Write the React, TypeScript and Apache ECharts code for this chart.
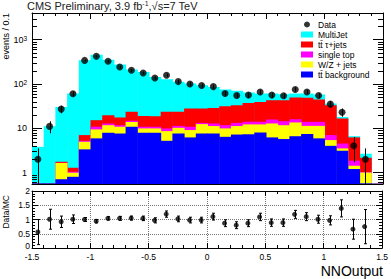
import React, { useEffect, useRef } from "react";
import * as echarts from "echarts";

// Bin low edges of NNOutput (bin width 0.1)
const binLow = [
  -1.5, -1.4, -1.3, -1.2, -1.1, -1.0, -0.9, -0.8, -0.7, -0.6,
  -0.5, -0.4, -0.3, -0.2, -0.1, 0.0, 0.1, 0.2, 0.3, 0.4,
  0.5, 0.6, 0.7, 0.8, 0.9, 1.0, 1.1, 1.2, 1.3, 1.4,
];
const binWidth = 0.1;

// Stacked MC components (events / 0.1)
const ttbarBkg = [0.57, 0.57, 0.7, 0.8, 3.33, 5.9, 7.9, 7.6, 10.8, 7.9, 7.9, 5.2, 7.6, 6.2, 7.6, 7.6, 6.4, 7.2, 7.3, 8.0, 6.2, 5.7, 6.6, 7.4, 5.9, 4.0, 3.1, 1.2, 0.57, 0.56];
const wzJets = [0, 0, 0.94, 0.19, 1.61, 3.5, 3.8, 3.2, 3.1, 2.0, 2.0, 3.4, 2.6, 2.9, 4.8, 3.6, 3.5, 4.0, 4.9, 4.2, 6.6, 6.0, 6.9, 3.9, 5.4, 1.4, 0.4, 0.22, 0.43, 0];
const singleTop = [0, 0, 0.03, 0.05, 0.26, 1.4, 1.1, 0.9, 0.8, 0.9, 0.9, 1.3, 1.1, 1.7, 0.8, 1.6, 1.8, 2.0, 1.8, 1.8, 3.0, 2.7, 2.5, 2.6, 2.6, 1.6, 1.0, 0.43, 0.02, 0];
const ttTauJets = [0, 0, 0.07, 0.24, 1.8, 4.4, 6.9, 5.8, 8.7, 8.0, 7.9, 13.6, 12.2, 17.1, 14.7, 16.0, 19.8, 19.8, 23.3, 25.0, 27.2, 28.6, 33.3, 35.1, 30.7, 26.0, 12.1, 4.35, 1.13, 0];
const multiJet = [3.23, 10.5, 28.6, 59.4, 335, 444, 334, 256, 188, 167, 125, 104, 88, 74, 65, 57, 43.5, 37, 26.7, 22, 17.8, 15.7, 11.5, 11.8, 13.1, 3.0, 1.4, 0.4, 0.5, 0];

// Data (events / 0.1) and its error bars
const dataVals = [2, 11, 27, 60, 340, 420, 324, 241, 203, 177, 136, 157, 113, 100, 92, 87, 61, 55, 56, 66, 56, 54, 75, 66, 55, 35, 23, 4, 2];
const dataErr = [1.5, 3.3, 5.2, 7.7, 18, 20.5, 18, 15.5, 14.2, 13.3, 11.7, 12.5, 10.6, 10, 9.6, 9.3, 7.8, 7.4, 7.5, 8.1, 7.5, 7.3, 8.7, 8.1, 7.4, 5.9, 4.8, 2.3, 1.5];

// Data / MC ratio and its error bars
const ratioVals = [0.56, 1.01, 0.92, 1.01, 1.0, 0.94, 1.04, 1.04, 1.05, 1.04, 0.97, 1.19, 1.02, 0.98, 0.98, 1.1, 0.87, 0.8, 0.87, 1.09, 0.89, 0.89, 1.18, 1.1, 1.01, 0.97, 1.39, 0.66, 0.75];
const ratioErr = [0.44, 0.35, 0.2, 0.15, 0.07, 0.06, 0.06, 0.07, 0.07, 0.08, 0.09, 0.11, 0.1, 0.1, 0.1, 0.12, 0.12, 0.12, 0.12, 0.13, 0.13, 0.13, 0.14, 0.14, 0.14, 0.16, 0.3, 0.35, 0.6];

// Log-axis minor tick values
const logMinorTicks = [0.6, 0.7, 0.8, 0.9, 2, 3, 4, 5, 6, 7, 8, 9, 20, 30, 40, 50, 60, 70, 80, 90, 200, 300, 400, 500, 600, 700, 800, 900, 2000, 3000];

const Y_MIN = 0.55;
const Y_MAX = 4000;
const FONT = "'Liberation Sans', Arial, Helvetica, sans-serif";

const COLORS = {
  multi: "#00ffff",
  tau: "#ff0000",
  single: "#ff00ff",
  wz: "#ffff00",
  bkg: "#0000ff",
};

const NAMES = {
  multi: "MultiJet",
  tau: "tt\u0304 \u03c4+jets",
  single: "single top",
  wz: "W/Z + jets",
  bkg: "tt\u0304 background",
};

export default function App() {
  const ref = useRef<HTMLDivElement>(null);

  useEffect(() => {
    if (!ref.current) return;
    const chart = echarts.init(ref.current, undefined, { renderer: "svg" });

    const cum1 = ttbarBkg.map((v) => v);
    const cum2 = cum1.map((v, i) => v + wzJets[i]);
    const cum3 = cum2.map((v, i) => v + singleTop[i]);
    const cum4 = cum3.map((v, i) => v + ttTauJets[i]);
    const cum5 = cum4.map((v, i) => v + multiJet[i]);

    const stackData = (cum: number[]) => binLow.map((x, i) => [x, cum[i]]);

    const stackRender = (color: string) => (params: any, api: any) => {
      const x0 = api.value(0) as number;
      const top = api.value(1) as number;
      const cs = params.coordSys;
      if (!(top > 0)) return null;
      const pL = api.coord([x0, top]);
      const pR = api.coord([x0 + binWidth, top]);
      const bottomY = cs.y + cs.height;
      const shape = echarts.graphic.clipRectByRect(
        { x: pL[0], y: pL[1], width: pR[0] - pL[0] + 0.5, height: bottomY - pL[1] },
        { x: cs.x, y: cs.y, width: cs.width, height: cs.height }
      );
      if (!shape) return null;
      return { type: "rect", shape, style: { fill: color } };
    };

    const stackSeries = (key: keyof typeof COLORS, cum: number[]) => ({
      type: "custom",
      name: NAMES[key],
      xAxisIndex: 0,
      yAxisIndex: 0,
      silent: true,
      itemStyle: { color: COLORS[key] },
      renderItem: stackRender(COLORS[key]),
      data: stackData(cum),
    });

    const centers = dataVals.map((_, i) => binLow[i] + binWidth / 2);

    const topErrData = dataVals.map((v, i) => [centers[i], v - dataErr[i], v + dataErr[i]]);
    const ratioErrData = ratioVals.map((v, i) => [centers[i], v - ratioErr[i], v + ratioErr[i]]);

    const errRenderLog = (params: any, api: any) => {
      const x = api.value(0) as number;
      const lo = api.value(1) as number;
      const hi = api.value(2) as number;
      const cs = params.coordSys;
      const pH = api.coord([x, hi]);
      const yLo = lo > Y_MIN ? api.coord([x, lo])[1] : cs.y + cs.height;
      const px = Math.round(pH[0]) + 0.5;
      return {
        type: "line",
        shape: { x1: px, y1: Math.max(pH[1], cs.y), x2: px, y2: Math.min(yLo, cs.y + cs.height) },
        style: { stroke: "#000", lineWidth: 1 },
      };
    };

    const errRenderLin = (params: any, api: any) => {
      const x = api.value(0) as number;
      const lo = api.value(1) as number;
      const hi = api.value(2) as number;
      const cs = params.coordSys;
      const pH = api.coord([x, hi]);
      const pLo = api.coord([x, lo]);
      const px = Math.round(pH[0]) + 0.5;
      const y1 = Math.max(pH[1], cs.y);
      const y2 = Math.min(pLo[1], cs.y + cs.height);
      return {
        type: "group",
        children: [
          { type: "line", shape: { x1: px, y1, x2: px, y2 }, style: { stroke: "#000", lineWidth: 1 } },
          { type: "line", shape: { x1: px - 1.5, y1, x2: px + 1.5, y2: y1 }, style: { stroke: "#000", lineWidth: 1 } },
          { type: "line", shape: { x1: px - 1.5, y1: y2, x2: px + 1.5, y2 }, style: { stroke: "#000", lineWidth: 1 } },
        ],
      };
    };

    const minorRender = (params: any, api: any) => {
      const v = api.value(1) as number;
      const cs = params.coordSys;
      const p = api.coord([-1.5, v]);
      const y = Math.round(p[1]) + 0.5;
      return {
        type: "group",
        children: [
          { type: "line", shape: { x1: cs.x, y1: y, x2: cs.x + 5, y2: y }, style: { stroke: "#000", lineWidth: 1 } },
          { type: "line", shape: { x1: cs.x + cs.width - 5, y1: y, x2: cs.x + cs.width, y2: y }, style: { stroke: "#000", lineWidth: 1 } },
        ],
      };
    };

    const line = { show: true, onZero: false, lineStyle: { color: "#000", width: 1 } };

    const logLabel = (v: number) => {
      const e = Math.log10(v);
      const r = Math.round(e);
      if (Math.abs(e - r) > 1e-6) return "";
      if (r === 0) return "1";
      if (r === 1) return "10";
      return "10{s|" + r + "}";
    };

    const ratioLabel = (v: number) => (v === 0 ? "{z|0}" : String(v));

    const xTop = (grid: number, pos: string, major: number, minor: number, labels: boolean, split: boolean) => ({
      type: "value",
      gridIndex: grid,
      position: pos,
      min: -1.5,
      max: 1.5,
      interval: 0.5,
      axisLine: line,
      axisTick: { show: true, inside: true, length: major, lineStyle: { color: "#000" } },
      minorTick: { show: true, splitNumber: 5, length: minor, lineStyle: { color: "#000" } },
      axisLabel: labels
        ? { show: true, fontSize: 8.5, color: "#000", margin: 4, fontFamily: FONT }
        : { show: false },
      splitLine: split
        ? { show: true, showMinLine: false, showMaxLine: false, lineStyle: { type: "dotted", color: "#777", width: 1 } }
        : { show: false },
      axisPointer: { show: false },
    });

    const option: any = {
      animation: false,
      backgroundColor: "#fff",
      textStyle: { fontFamily: FONT },
      grid: [
        { left: 32, top: 13, width: 351, height: 171, containLabel: false },
        { left: 32, top: 191, width: 351, height: 57, containLabel: false },
      ],
      xAxis: [
        xTop(0, "bottom", 6, 3, false, false),
        xTop(0, "top", 6, 3, false, false),
        xTop(1, "bottom", 5, 3, true, true),
        xTop(1, "top", 5, 3, false, false),
      ],
      yAxis: [
        {
          type: "log",
          logBase: 10,
          gridIndex: 0,
          position: "left",
          min: Y_MIN,
          max: Y_MAX,
          axisLine: line,
          axisTick: { show: true, inside: true, length: 10, lineStyle: { color: "#000" } },
          axisLabel: {
            show: true,
            showMinLabel: false,
            showMaxLabel: false,
            fontSize: 9,
            color: "#000",
            margin: 5,
            fontFamily: FONT,
            formatter: logLabel,
            rich: { s: { fontSize: 6.5, verticalAlign: "top", lineHeight: 6, color: "#000", fontFamily: FONT } },
          },
          splitLine: { show: false },
        },
        {
          type: "log",
          logBase: 10,
          gridIndex: 0,
          position: "right",
          min: Y_MIN,
          max: Y_MAX,
          axisLine: line,
          axisTick: { show: true, inside: true, length: 10, lineStyle: { color: "#000" } },
          axisLabel: { show: false },
          splitLine: { show: false },
        },
        {
          type: "value",
          gridIndex: 1,
          position: "left",
          min: 0,
          max: 2,
          interval: 0.5,
          axisLine: line,
          axisTick: { show: true, inside: true, length: 6, lineStyle: { color: "#000" } },
          minorTick: { show: true, splitNumber: 5, length: 3, lineStyle: { color: "#000" } },
          axisLabel: {
            show: true,
            fontSize: 8.5,
            color: "#000",
            margin: 2,
            fontFamily: FONT,
            formatter: ratioLabel,
            rich: { z: { fontSize: 8.5, color: "#000", fontFamily: FONT, padding: [0, 0, 4, 0] } },
          },
          splitLine: { show: true, showMinLine: false, showMaxLine: false, lineStyle: { type: "dotted", color: "#777", width: 1 } },
        },
        {
          type: "value",
          gridIndex: 1,
          position: "right",
          min: 0,
          max: 2,
          interval: 0.5,
          axisLine: line,
          axisTick: { show: true, inside: true, length: 6, lineStyle: { color: "#000" } },
          minorTick: { show: true, splitNumber: 5, length: 3, lineStyle: { color: "#000" } },
          axisLabel: { show: false },
          splitLine: { show: false },
        },
      ],
      legend: {
        left: 296,
        top: 15,
        orient: "vertical",
        itemWidth: 12,
        itemHeight: 6,
        itemGap: 1,
        selectedMode: false,
        textStyle: { fontSize: 8.5, color: "#000", lineHeight: 9, fontFamily: FONT },
        data: [
          { name: "Data", icon: "circle" },
          { name: NAMES.multi, icon: "rect" },
          { name: NAMES.tau, icon: "rect" },
          { name: NAMES.single, icon: "rect" },
          { name: NAMES.wz, icon: "rect" },
          { name: NAMES.bkg, icon: "rect" },
        ],
      },
      graphic: [
        {
          type: "text",
          left: 27,
          top: 0,
          style: {
            text: "CMS Preliminary, 3.9 fb{s|-1},\u221as=7 TeV",
            fontSize: 11,
            fill: "#222",
            fontFamily: FONT,
            rich: { s: { fontSize: 7, verticalAlign: "top", lineHeight: 6, fill: "#222", fontFamily: FONT } },
          },
        },
        {
          type: "text",
          x: 1,
          y: 13,
          rotation: Math.PI / 2,
          style: {
            text: "events / 0.1",
            fontSize: 9,
            fill: "#000",
            align: "right",
            verticalAlign: "top",
            fontFamily: FONT,
          },
        },
        {
          type: "text",
          x: 1,
          y: 195,
          rotation: Math.PI / 2,
          style: {
            text: "Data/MC",
            fontSize: 8.5,
            fill: "#000",
            align: "right",
            verticalAlign: "top",
            fontFamily: FONT,
          },
        },
        {
          type: "text",
          x: 383,
          y: 271,
          style: {
            text: "NNOutput",
            fontSize: 14,
            fill: "#000",
            align: "right",
            verticalAlign: "middle",
            fontFamily: FONT,
          },
        },
      ],
      series: [
        stackSeries("multi", cum5),
        stackSeries("tau", cum4),
        stackSeries("single", cum3),
        stackSeries("wz", cum2),
        stackSeries("bkg", cum1),
        {
          type: "custom",
          name: "minorTicks",
          xAxisIndex: 0,
          yAxisIndex: 0,
          silent: true,
          renderItem: minorRender,
          data: logMinorTicks.map((v) => [-1.5, v]),
          z: 5,
        },
        {
          type: "custom",
          name: "dataErr",
          xAxisIndex: 0,
          yAxisIndex: 0,
          silent: true,
          renderItem: errRenderLog,
          data: topErrData,
          z: 6,
        },
        {
          type: "scatter",
          name: "Data",
          xAxisIndex: 0,
          yAxisIndex: 0,
          symbol: "circle",
          symbolSize: 7,
          itemStyle: { color: "#000" },
          silent: true,
          data: dataVals.map((v, i) => [centers[i], v]),
          z: 7,
        },
        {
          type: "custom",
          name: "ratioErr",
          xAxisIndex: 2,
          yAxisIndex: 2,
          silent: true,
          renderItem: errRenderLin,
          data: ratioErrData,
          z: 6,
        },
        {
          type: "scatter",
          name: "ratio",
          xAxisIndex: 2,
          yAxisIndex: 2,
          symbol: "circle",
          symbolSize: 5,
          itemStyle: { color: "#000" },
          silent: true,
          data: ratioVals.map((v, i) => [centers[i], v]),
          z: 7,
        },
      ],
    };

    chart.setOption(option);
    return () => {
      chart.dispose();
    };
  }, []);

  return (
    <div
      ref={ref}
      style={{ position: "fixed", left: 0, top: 0, width: 391, height: 279, background: "#fff" }}
    />
  );
}
